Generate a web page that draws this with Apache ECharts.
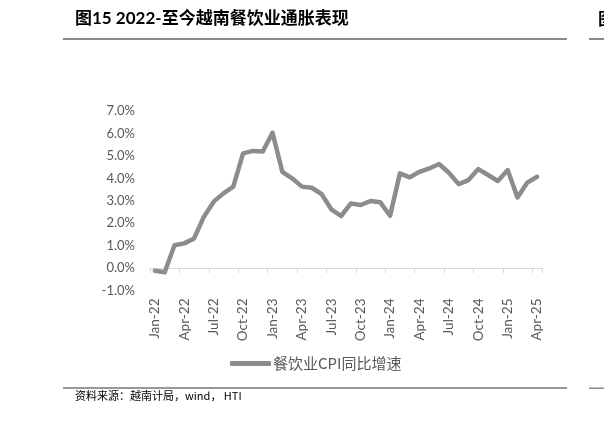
<!DOCTYPE html>
<html>
<head>
<meta charset="utf-8">
<script src="https://cdn.jsdelivr.net/npm/echarts@6/dist/echarts.min.js"></script>
<style>
html,body{margin:0;padding:0;background:#fff;}
#chart{width:604px;height:431px;}
</style>
</head>
<body>
<div id="chart"></div>
<script>
var categories = ["Jan-22","Feb-22","Mar-22","Apr-22","May-22","Jun-22","Jul-22","Aug-22","Sep-22","Oct-22","Nov-22","Dec-22",
  "Jan-23","Feb-23","Mar-23","Apr-23","May-23","Jun-23","Jul-23","Aug-23","Sep-23","Oct-23","Nov-23","Dec-23",
  "Jan-24","Feb-24","Mar-24","Apr-24","May-24","Jun-24","Jul-24","Aug-24","Sep-24","Oct-24","Nov-24","Dec-24",
  "Jan-25","Feb-25","Mar-25","Apr-25"];
var cpiYoY = [-0.12,-0.19,1.02,1.10,1.32,2.29,2.96,3.33,3.63,5.11,5.22,5.19,
  6.03,4.29,4.00,3.63,3.58,3.30,2.62,2.32,2.88,2.81,2.99,2.93,
  2.33,4.22,4.04,4.29,4.44,4.64,4.25,3.74,3.92,4.41,4.15,3.88,
  4.37,3.15,3.81,4.07];
var seriesName = "餐饮业CPI同比增速";
var titleText = "图15 2022-至今越南餐饮业通胀表现";
var sourceText = "资料来源：越南计局，wind， HTI";

var chart = echarts.init(document.getElementById('chart'), null, {renderer:'canvas'});
chart.setOption({
  backgroundColor:'#ffffff',
  animation:false,
  grid:{left:150,right:62,top:111,bottom:140.5,containLabel:false},
  legend:{
    data:[{name:seriesName,icon:'roundRect'}],
    left:225, top:351,
    itemWidth:41, itemHeight:5, itemGap:10,
    textStyle:{color:'#595959',fontSize:15,fontFamily:"'Noto Sans CJK SC', Lato",padding:[0,0,0,-3]}
  },
  xAxis:{
    type:'category',
    data:categories,
    boundaryGap:true,
    axisLine:{onZero:true,lineStyle:{color:'#d9d9d9',width:1}},
    axisTick:{show:true,interval:2,length:5,lineStyle:{color:'#d9d9d9'}},
    axisLabel:{interval:2,rotate:90,margin:8,color:'#595959',fontSize:13.5,fontFamily:'Lato'},
    splitLine:{show:false}
  },
  yAxis:{
    type:'value',
    min:-1,max:7,interval:1,
    axisLine:{show:false},
    axisTick:{show:false},
    splitLine:{show:false},
    axisLabel:{margin:15,color:'#595959',fontSize:13,fontFamily:'Lato',
      formatter:function(v){return v.toFixed(1)+'%';}}
  },
  series:[{
    name:seriesName,
    type:'line',
    data:cpiYoY,
    symbol:'none',
    lineStyle:{color:'#8c8c8c',width:4.5,join:'round',cap:'round'},
    itemStyle:{color:'#8c8c8c'}
  }],
  graphic:[
    {type:'text',left:75,top:10,style:{text:titleText,fill:'#000',font:"bold 17px Lato, 'Noto Sans CJK SC'"}},
    {type:'rect',shape:{x:63,y:38,width:504,height:2},style:{fill:'#8a8a8a'}},
    {type:'rect',shape:{x:589,y:38,width:15,height:2},style:{fill:'#8a8a8a'}},
    {type:'text',left:598,top:10,style:{text:'图',fill:'#000',font:"bold 17px 'Noto Sans CJK SC'"}},
    {type:'rect',shape:{x:63,y:387.5,width:504,height:1},style:{fill:'#333'}},
    {type:'rect',shape:{x:589,y:387.5,width:15,height:1.5},style:{fill:'#888'}},
    {type:'text',left:75,top:390,style:{text:sourceText,fill:'#000',font:"11px 'Noto Sans CJK SC', Lato"}}
  ]
});
</script>
</body>
</html>
